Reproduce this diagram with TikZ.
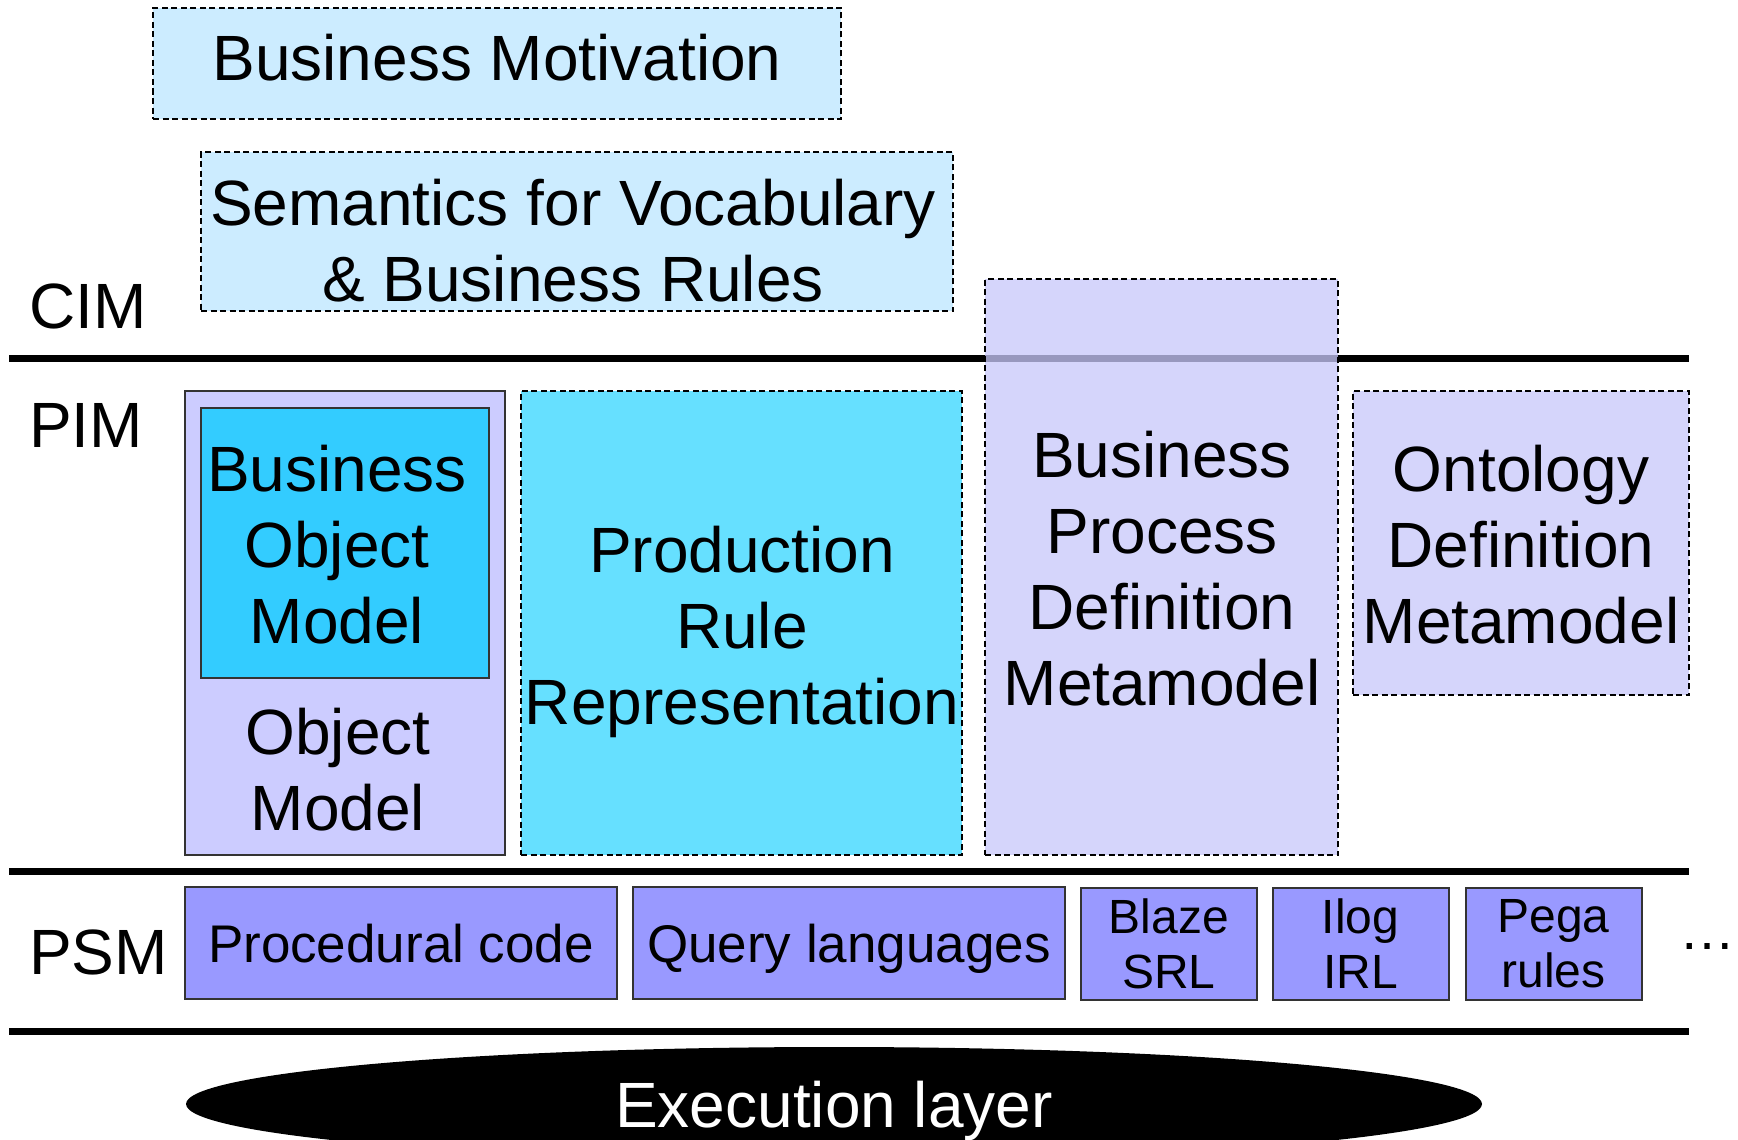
\documentclass[tikz,border=0pt]{standalone}
\usepackage{fontspec}
\setmainfont{Liberation Sans}
\usetikzlibrary{shapes.geometric}
\definecolor{cimblue}{RGB}{204,236,255}
\definecolor{lav}{RGB}{204,204,255}
\definecolor{lavlight}{RGB}{200,200,250}
\definecolor{bomblue}{RGB}{51,204,255}
\definecolor{prrblue}{RGB}{102,224,255}
\definecolor{psmblue}{RGB}{153,153,255}
\begin{document}
\begin{tikzpicture}[x=1pt,y=-1pt,
  font=\fontsize{64}{76}\selectfont,
  box/.style={rectangle, inner sep=0pt},
  dbox/.style={box, draw=black, line width=1.6pt, dash pattern=on 6pt off 3.5pt},
  sbox/.style={box, draw=black!80, line width=2pt},
  txt/.style={inner sep=0pt, align=center},
  lbl/.style={inner sep=0pt, anchor=west, text depth=0pt},
  psm/.style={sbox, fill=psmblue, minimum height=112pt, align=center},
  psmbig/.style={psm, font=\fontsize{53}{55}\selectfont, text depth=0pt},
  psmsmall/.style={psm, font=\fontsize{48}{55}\selectfont, minimum width=176pt},
  layerline/.style={line width=7pt}]
\useasboundingbox (0,0) rectangle (1738,1140);

% CIM
\node[dbox, fill=cimblue, minimum width=688pt, minimum height=111pt] (bm) at (497,63.5) {};
\node[txt, text depth=0pt] (bmt) at (497,57) {Business Motivation};
\node[dbox, fill=cimblue, minimum width=752pt, minimum height=159pt] (sem) at (577,231.5) {};
\node[txt] (semt) at (573,241) {Semantics for Vocabulary\\\& Business Rules};
\node[lbl] (cim) at (29,306) {CIM};

% layer line 1
\coordinate (l1a) at (9,358); \coordinate (l1b) at (1689,358);
\draw[layerline] (l1a) -- (l1b);

% PIM
\node[lbl] (pim) at (29,425) {PIM};
\node[sbox, fill=lav, minimum width=320pt, minimum height=464pt] (om) at (345,623) {};
\node[sbox, fill=bomblue, minimum width=288pt, minimum height=270pt] (bom) at (345,543) {};
\node[txt] (bomt) at (337,545) {Business\\Object\\Model};
\node[txt] (omt) at (338,770) {Object\\Model};
\node[dbox, fill=prrblue, minimum width=441pt, minimum height=464pt] (prr) at (741.5,623) {};
\node[txt] (prrt) at (742,632) {Production\\Rule\\Representation};
\node[dbox, fill=lavlight, fill opacity=0.76, minimum width=353pt, minimum height=576pt] (bpdm) at (1161.5,567) {};
\node[txt] (bpdmt) at (1162,569) {Business\\Process\\Definition\\Metamodel};
\node[dbox, fill=lavlight, fill opacity=0.76, minimum width=336pt, minimum height=304pt] (odm) at (1521,543) {};
\node[txt] (odmt) at (1521,545) {Ontology\\Definition\\Metamodel};

% layer line 2
\coordinate (l2a) at (9,871); \coordinate (l2b) at (1689,871);
\draw[layerline] (l2a) -- (l2b);

% PSM
\node[lbl] (psmlabel) at (29,952) {PSM};
\node[psmbig, minimum width=432pt] (proc) at (401,943) {Procedural code};
\node[psmbig, minimum width=432pt] (query) at (849,943) {Query languages};
\node[psmsmall] (blaze) at (1169,944) {Blaze\\SRL};
\node[psmsmall] (ilog) at (1360.5,944) {Ilog\\IRL};
\node[psmsmall] (pega) at (1553.5,944) {Pega\\rules};
\node[txt, font=\fontsize{56}{56}\selectfont] (dots) at (1707,946) {…};

% layer line 3
\coordinate (l3a) at (9,1031); \coordinate (l3b) at (1689,1031);
\draw[layerline] (l3a) -- (l3b);

% Execution layer
\begin{scope}
\clip (0,0) rectangle (1738,1140);
\node[ellipse, fill=black, text=white, inner sep=0pt, minimum width=1296pt, minimum height=114pt, text depth=0pt] (exec) at (834,1104) {Execution layer};
\end{scope}
\end{tikzpicture}
\end{document}
